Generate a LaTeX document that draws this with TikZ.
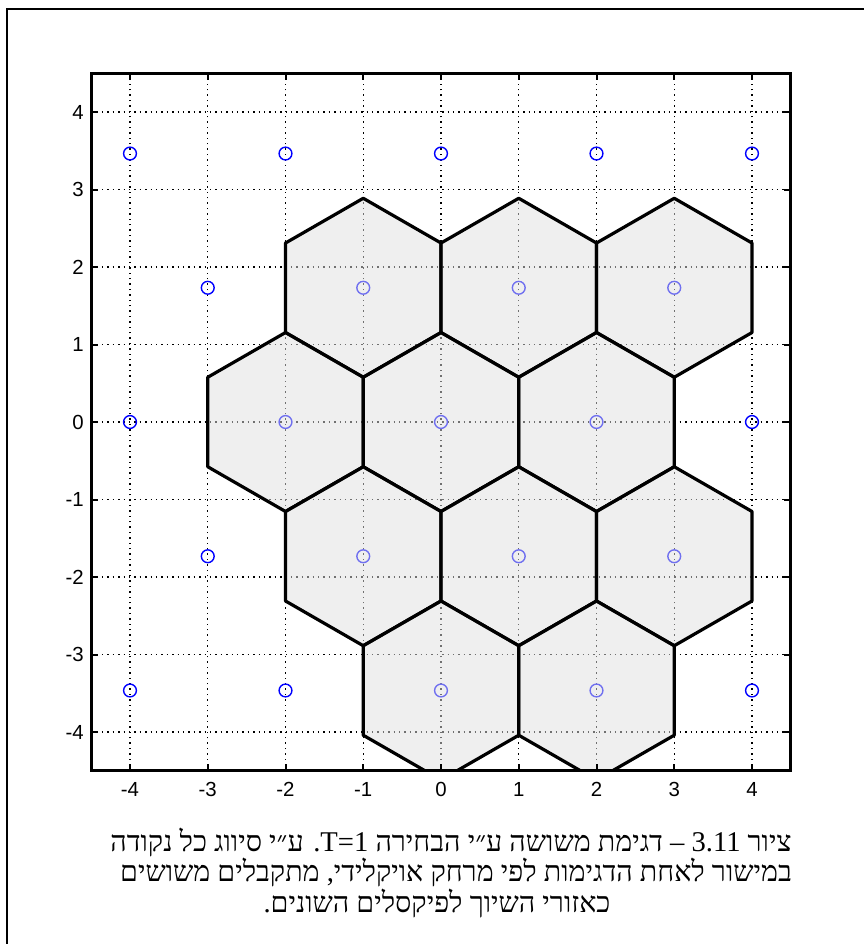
\documentclass[tikz,border=0pt]{standalone}
\usepackage{fontspec}
\setmainfont{Liberation Sans}
\newfontfamily\hebfont[Script=Hebrew]{Liberation Serif}
\TeXXeTstate=1

\tikzset{
  gridline/.style={dotted, line width=0.7pt},
  cell/.style={fill=black!12, fill opacity=0.5, draw=black, line width=1.6pt, line join=round},
  sample/.style={blue, line width=0.7pt},
  ticklab/.style={inner sep=0pt, font=\fontsize{10.2}{12}\selectfont},
  caption/.style={anchor=base, inner sep=0pt, font=\hebfont\fontsize{14.3}{17}\selectfont}
}

\begin{document}
\begin{tikzpicture}[x=0.5pt,y=0.5pt]
  \useasboundingbox (0,0) rectangle (864,-944);
  \draw[line width=1pt] (7,-944) -- (7,-9) -- (864,-9);

  \begin{scope}[shift={(441,-422)},x=38.875pt,y=38.75pt]
    \def\rt{1.7320508} \def\hr{0.5773503} \def\hR{1.1547005}
    % dotted grid
    \foreach \k in {-4,...,4} {
      \draw[gridline] (\k,-4.5) -- (\k,4.5);
      \draw[gridline] (-4.5,\k) -- (4.5,\k);
    }
    % sample points
    \foreach \j in {-2,...,2} {
      \pgfmathtruncatemacro{\odd}{mod(abs(\j),2)}
      \ifnum\odd=0
        \foreach \i in {-4,-2,0,2,4} \draw[sample] (\i,{\j*\rt}) circle[radius=3.2pt];
      \else
        \foreach \i in {-3,-1,1,3} \draw[sample] (\i,{\j*\rt}) circle[radius=3.2pt];
      \fi
    }
    % hexagonal cells
    \begin{scope}
      \clip (-4.5,-4.5) rectangle (4.5,4.5);
      \foreach \cx/\cy in {-1/1,1/1,3/1,-2/0,0/0,2/0,-1/-1,1/-1,3/-1,0/-2,2/-2}
        \filldraw[cell] ({\cx+1},{\cy*\rt+\hr}) -- (\cx,{\cy*\rt+\hR})
          -- ({\cx-1},{\cy*\rt+\hr}) -- ({\cx-1},{\cy*\rt-\hr})
          -- (\cx,{\cy*\rt-\hR}) -- ({\cx+1},{\cy*\rt-\hr}) -- cycle;
    \end{scope}
    % axes box and ticks
    \draw[line width=1.5pt] (-4.5,-4.5) rectangle (4.5,4.5);
    \foreach \k in {-4,...,4} {
      \draw[line width=1pt] (\k,-4.5) -- ++(0,0.09) (\k,4.5) -- ++(0,-0.09);
      \draw[line width=1pt] (-4.5,\k) -- ++(0.09,0) (4.5,\k) -- ++(-0.09,0);
      \node[ticklab, anchor=north, yshift=-5.5pt] (xl\k) at (\k,-4.5) {\k};
      \node[ticklab, anchor=east, xshift=-3.5pt] (yl\k) at (-4.5,\k) {\k};
    }
  \end{scope}

  % caption
  \node[caption] (capA) at (451,-851) {\beginR ציור \beginL 3.11\endL{} – דגימת משושה ע״י הבחירה \beginL T=1\endL. ע״י סיווג כל נקודה\endR};
  \node[caption] (capB) at (456,-881) {\beginR במישור לאחת הדגימות לפי מרחק אויקלידי, מתקבלים משושים\endR};
  \node[caption] (capC) at (437,-912) {\beginR כאזורי השיוך לפיקסלים השונים.\endR};
\end{tikzpicture}
\end{document}
